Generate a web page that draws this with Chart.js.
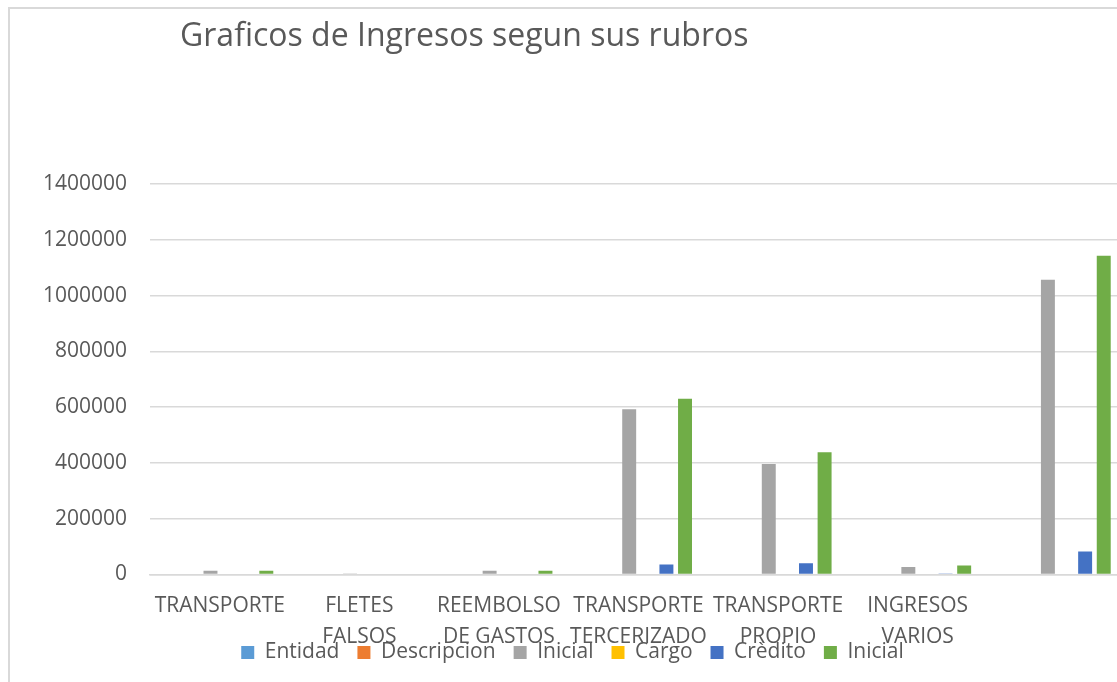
<!DOCTYPE html>
<html>
<head>
<meta charset="utf-8">
<script src="https://cdn.jsdelivr.net/npm/chart.js@4/dist/chart.umd.min.js"></script>
<style>
  html, body { margin: 0; padding: 0; background: #fff; width: 1117px; height: 682px; overflow: hidden; }
  #frame { position: absolute; left: 8px; top: 7px; width: 1200px; height: 700px; border-left: 2px solid #d9d9d9; border-top: 2px solid #d9d9d9; }
  #wrap { position: absolute; left: 0; top: 0; width: 1127px; height: 682px; }
</style>
</head>
<body>
<div id="frame"></div>
<div id="wrap"><canvas id="grafico"></canvas></div>
<script>
var rubros = ['TRANSPORTE', ['FLETES', 'FALSOS'], ['REEMBOLSO', 'DE GASTOS'], ['TRANSPORTE', 'TERCERIZADO'], ['TRANSPORTE', 'PROPIO'], ['INGRESOS', 'VARIOS'], ''];
var entidad = [0, 0, 0, 0, 0, 0, 0];
var descripcion = [0, 0, 0, 0, 0, 0, 0];
var inicial = [13000, 2000, 13000, 592000, 396000, 27000, 1057000];
var cargo = [0, 0, 0, 0, 0, 0, 0];
var credito = [0, 0, 0, 35700, 40400, 1500, 82500];
var inicial2 = [13500, 2500, 13500, 630000, 438000, 32000, 1143000];
var ticksY = [0, 200000, 400000, 600000, 800000, 1000000, 1200000, 1400000];

var fuente = 'Open Sans';
var gris = '#595959';

// titulo dibujado a mano, alineado a la izquierda como en el original
var tituloPlugin = {
	id: 'tituloPlugin',
	afterDraw: function(chart){
		var ctx = chart.ctx;
		ctx.save();
		ctx.font = '32px "' + fuente + '"';
		ctx.fillStyle = gris;
		ctx.textBaseline = 'middle';
		ctx.textAlign = 'left';
		ctx.fillText('Graficos de Ingresos segun sus rubros', 180, 37);
		ctx.restore();
	}
};

function serie(nombre, valores, color){
	return { label: nombre, data: valores, backgroundColor: color, borderWidth: 0,
		barPercentage: 0.75, categoryPercentage: 0.8 };
};

var ctx = document.getElementById('grafico').getContext('2d');
var myNewChart = new Chart(ctx, {
	type: 'bar',
	data: {
		labels: rubros,
		datasets: [
			serie('Entidad', entidad, '#5B9BD5'),
			serie('Descripcion', descripcion, '#ED7D31'),
			serie('Inicial', inicial, '#A5A5A5'),
			serie('Cargo', cargo, '#FFC000'),
			serie('Crèdito', credito, '#4472C4'),
			serie('Inicial', inicial2, '#70AD47')
		]
	},
	plugins: [tituloPlugin],
	options: {
		responsive: true,
		maintainAspectRatio: false,
		animation: false,
		layout: { padding: { top: 184, left: 18, right: 0, bottom: 9 } },
		plugins: {
			title: { display: false },
			tooltip: { enabled: false },
			legend: {
				position: 'bottom',
				labels: { font: { family: fuente, size: 21 }, color: gris, boxWidth: 13, boxHeight: 13, padding: 18 }
			}
		},
		scales: {
			x: {
				grid: { display: false },
				border: { display: true, color: '#d9d9d9', width: 1.5 },
				ticks: { font: { family: fuente, size: 21, lineHeight: 1.43 }, color: gris, padding: 9, maxRotation: 0, autoSkip: false },
				afterFit: function(scale){
					// la leyenda se monta sobre la segunda linea, como en Excel
					scale.height = 49.5;
					scale._computeLabelArea = function(){ return undefined; };
				}
			},
			y: {
				min: 0,
				max: ticksY[ticksY.length - 1],
				afterBuildTicks: function(scale){ scale.ticks = ticksY.map(function(v){ return { value: v }; }); },
				grid: { color: '#d9d9d9', lineWidth: 1.5, drawTicks: false },
				border: { display: false },
				ticks: { font: { family: fuente, size: 21 }, color: gris, padding: 23, callback: function(v){ return v; } },
				afterFit: function(scale){ scale.width = 132; }
			}
		}
	}
});
</script>
</body>
</html>
